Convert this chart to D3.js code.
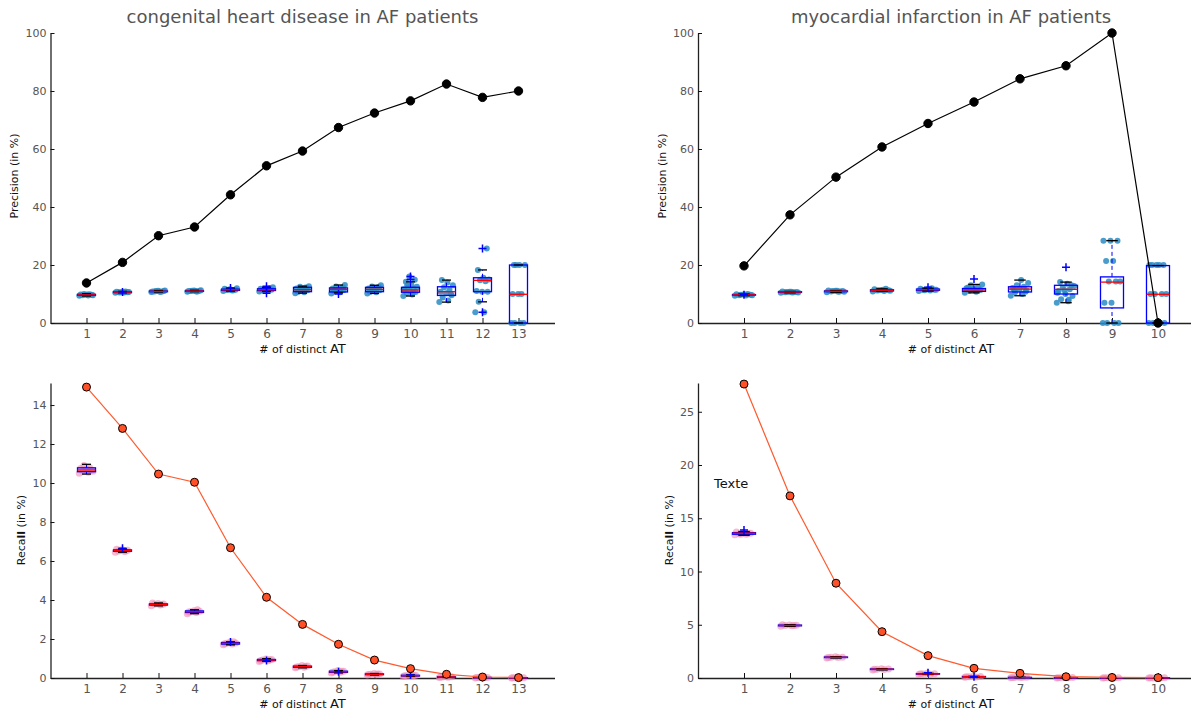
<!DOCTYPE html>
<html lang="en">
<head>
<meta charset="UTF-8">
<title>Precision / Recall by # of distinct AT</title>
<script src="https://d3js.org/d3.v7.min.js"></script>
<style>
    body { margin: 0; background: #fff; font-family: "DejaVu Sans", sans-serif; }
    .tick text { fill: #555; font-family: "DejaVu Sans", sans-serif; }
    .tick line { stroke: #111; }
    .domain { stroke: #222; stroke-width: 1.3; }
</style>
</head>
<body>
<div id="chart"></div>
<script>
// ---- categories / tick labels
const catsCHD = [1, 2, 3, 4, 5, 6, 7, 8, 9, 10, 11, 12, 13];
const catsMI = [1, 2, 3, 4, 5, 6, 7, 8, 9, 10];
const precTicks = [0, 20, 40, 60, 80, 100];
const recallTicksCHD = [0, 2, 4, 6, 8, 10, 12, 14];
const recallTicksMI = [0, 5, 10, 15, 20, 25];

// ---- precision, congenital heart disease
const precLineCHD = [13.8, 20.9, 30.1, 33.1, 44.2, 54.2, 59.3, 67.4, 72.4, 76.6, 82.4, 77.8, 80.0];
// [low whisker, q1, median, q3, high whisker]
const precBoxCHD = [
    [9.3, 9.55, 9.7, 9.85, 10.1], [10.4, 10.5, 10.65, 10.75, 10.9], [10.7, 10.8, 10.9, 11.0, 11.2],
    [10.8, 10.9, 11.0, 11.1, 11.3], [11.0, 11.25, 11.45, 11.65, 12.0], [10.9, 11.2, 11.45, 11.8, 12.3],
    [10.3, 10.8, 11.5, 12.3, 12.7], [10.4, 10.7, 11.6, 12.1, 13.1], [10.2, 10.8, 11.6, 12.3, 13.0],
    [9.3, 10.6, 11.4, 12.3, 14.2], [7.2, 9.5, 10.8, 12.5, 14.8], [7.3, 10.8, 14.7, 15.6, 18.3],
    [0, 0, 9.9, 20.0, 20.0]
];
const precFliersCHD = [[], [10.7], [], [], [12.1], [12.7, 10.3], [], [10.0], [], [15.0, 16.0], [], [25.7, 3.7], []];
const precPtsCHD = [
    [9.4, 9.5, 9.6, 9.7, 9.7, 9.8, 9.9, 10.0, 9.6, 9.8],
    [10.4, 10.5, 10.6, 10.6, 10.7, 10.8, 10.9, 10.5, 10.7, 10.6],
    [10.7, 10.8, 10.9, 11.0, 11.1, 10.9, 10.8, 11.0, 11.2, 10.9],
    [10.8, 10.9, 11.0, 11.1, 11.2, 11.0, 10.9, 11.1, 11.3, 11.0],
    [11.0, 11.2, 11.4, 11.5, 11.6, 11.8, 11.3, 11.5, 12.0, 11.4],
    [10.9, 11.1, 11.3, 11.5, 11.6, 11.8, 12.0, 11.4, 12.3, 11.2],
    [10.3, 10.6, 10.9, 11.3, 11.6, 11.9, 12.2, 12.5, 12.7, 11.5, 10.8, 12.0],
    [10.2, 10.6, 10.9, 11.3, 11.6, 11.9, 12.1, 12.6, 13.1, 11.5, 11.0, 12.3],
    [10.2, 10.6, 10.9, 11.3, 11.6, 11.9, 12.2, 12.6, 13.0, 11.5, 10.8, 12.4],
    [9.3, 9.8, 10.3, 10.7, 11.0, 11.4, 11.8, 12.2, 12.5, 13.2, 14.2, 14.9, 16.0, 11.6, 10.5, 12.9],
    [7.2, 7.8, 8.8, 9.6, 10.3, 10.8, 11.5, 12.3, 13.0, 14.0, 14.8, 10.1],
    [3.7, 3.7, 7.3, 10.8, 10.8, 11.0, 14.4, 14.7, 15.0, 15.6, 18.3, 25.7],
    [0, 0, 0, 0, 10, 10, 10, 20, 20, 20, 20]
];

// ---- precision, myocardial infarction
const precLineMI = [19.7, 37.3, 50.3, 60.7, 68.8, 76.2, 84.2, 88.7, 100.0, 0.0];
const precBoxMI = [
    [9.4, 9.6, 9.7, 9.8, 10.0], [10.4, 10.55, 10.7, 10.8, 10.9], [10.6, 10.8, 10.95, 11.05, 11.2],
    [10.9, 11.05, 11.3, 11.45, 11.8], [11.0, 11.3, 11.5, 11.7, 12.0], [10.4, 10.9, 11.4, 11.9, 13.3],
    [9.4, 10.7, 11.7, 12.5, 14.8], [7.0, 10.0, 11.6, 13.0, 14.1], [0, 5.2, 14.1, 15.9, 28.4],
    [0, 0, 9.9, 19.8, 19.8]
];
const precFliersMI = [[9.7], [], [], [], [12.3], [15.2], [], [19.2], [], []];
const precPtsMI = [
    [9.4, 9.5, 9.6, 9.7, 9.8, 9.9, 10.0, 9.7, 9.6, 9.8],
    [10.4, 10.5, 10.6, 10.7, 10.8, 10.9, 10.6, 10.7, 10.5, 10.8],
    [10.6, 10.8, 10.9, 11.0, 11.1, 11.2, 10.9, 11.0, 10.8, 11.1],
    [10.9, 11.0, 11.2, 11.3, 11.4, 11.6, 11.8, 11.3, 11.1, 11.5],
    [11.0, 11.2, 11.4, 11.5, 11.6, 11.8, 12.0, 11.3, 11.5, 11.7],
    [10.4, 10.8, 11.1, 11.4, 11.7, 12.0, 12.4, 13.0, 13.3, 11.2, 12.2],
    [9.4, 10.0, 10.6, 11.2, 11.7, 12.1, 12.5, 13.0, 13.8, 14.8, 11.5, 10.8],
    [7.0, 7.5, 8.2, 9.3, 10.0, 11.0, 11.6, 12.2, 12.8, 13.5, 14.1, 13.0, 11.3, 10.4, 8.0],
    [0, 0, 0, 0, 7.0, 7.0, 14.3, 14.3, 14.3, 21.4, 21.4, 28.4, 28.4, 28.4],
    [0, 0, 0, 0, 0, 10, 10, 10, 10, 20, 20, 20, 20, 20]
];

// ---- recall, congenital heart disease
const recallLineCHD = [14.92, 12.8, 10.46, 10.04, 6.68, 4.14, 2.75, 1.73, 0.92, 0.48, 0.19, 0.05, 0.02];
const recallBoxCHD = [
    [10.46, 10.58, 10.67, 10.78, 10.96], [6.45, 6.5, 6.53, 6.57, 6.62], [3.7, 3.74, 3.77, 3.8, 3.85],
    [3.3, 3.36, 3.4, 3.44, 3.5], [1.7, 1.74, 1.78, 1.82, 1.86], [0.85, 0.89, 0.92, 0.95, 0.99],
    [0.52, 0.55, 0.58, 0.61, 0.64], [0.26, 0.29, 0.32, 0.35, 0.38], [0.15, 0.17, 0.19, 0.21, 0.23],
    [0.08, 0.1, 0.12, 0.14, 0.16], [0.03, 0.04, 0.05, 0.06, 0.07], [0.0, 0.01, 0.02, 0.03, 0.04],
    [0.0, 0.005, 0.01, 0.015, 0.02]
];
const recallFliersCHD = [[], [6.65], [], [], [1.85], [0.9], [], [0.32], [], [0.15], [], [0.03], []];
const recallPtsCHD = [
    [10.5, 10.55, 10.6, 10.65, 10.7, 10.75, 10.8, 10.9, 10.6, 10.7],
    [6.45, 6.5, 6.52, 6.55, 6.58, 6.6, 6.5, 6.55],
    [3.7, 3.75, 3.78, 3.8, 3.82, 3.85, 3.77],
    [3.3, 3.36, 3.4, 3.42, 3.45, 3.38, 3.5],
    [1.7, 1.74, 1.78, 1.8, 1.84, 1.76, 1.86],
    [0.85, 0.89, 0.92, 0.95, 0.98, 0.9, 0.94],
    [0.52, 0.55, 0.58, 0.61, 0.64, 0.57, 0.6],
    [0.26, 0.29, 0.32, 0.35, 0.38, 0.3, 0.34],
    [0.15, 0.17, 0.19, 0.21, 0.23, 0.18, 0.2],
    [0.08, 0.1, 0.12, 0.14, 0.16, 0.11, 0.13],
    [0.03, 0.04, 0.05, 0.06, 0.07, 0.05],
    [0.0, 0.01, 0.02, 0.03, 0.04, 0.02],
    [0.0, 0.005, 0.01, 0.015, 0.02, 0.01]
];

// ---- recall, myocardial infarction
const recallLineMI = [27.6, 17.1, 8.9, 4.35, 2.1, 0.91, 0.44, 0.12, 0.05, 0.03];
const recallBoxMI = [
    [13.4, 13.5, 13.6, 13.65, 13.75], [4.85, 4.9, 4.93, 4.97, 5.0], [1.88, 1.92, 1.94, 1.97, 2.0],
    [0.76, 0.8, 0.82, 0.85, 0.88], [0.33, 0.36, 0.38, 0.41, 0.44], [0.08, 0.1, 0.12, 0.14, 0.16],
    [0.03, 0.04, 0.05, 0.06, 0.07], [0.01, 0.02, 0.03, 0.04, 0.05], [0.0, 0.01, 0.02, 0.03, 0.04],
    [0.0, 0.01, 0.01, 0.02, 0.03]
];
const recallFliersMI = [[13.9], [], [], [], [0.5], [0.12], [], [], [], []];
const recallPtsMI = [
    [13.45, 13.5, 13.55, 13.6, 13.65, 13.7, 13.6, 13.5],
    [4.85, 4.9, 4.92, 4.95, 4.98, 5.0, 4.93],
    [1.88, 1.92, 1.94, 1.96, 2.0, 1.93],
    [0.76, 0.8, 0.82, 0.85, 0.88, 0.83],
    [0.33, 0.36, 0.38, 0.41, 0.44, 0.39],
    [0.08, 0.1, 0.12, 0.14, 0.16, 0.11],
    [0.03, 0.04, 0.05, 0.06, 0.07, 0.05],
    [0.01, 0.02, 0.03, 0.04, 0.05, 0.03],
    [0.0, 0.01, 0.02, 0.03, 0.04, 0.02],
    [0.0, 0.01, 0.01, 0.02, 0.03, 0.02]
];

const svg = d3.select("#chart").append("svg")
    .attr("width", 1191).attr("height", 712)
    .style("background", "#fff");

function drawPanel(p) {
    const g = svg.append("g");
    const x = d3.scaleLinear().domain([0, p.cats.length + 1]).range(p.xRange);
    const y = d3.scaleLinear().domain(p.yDomain).range(p.yRange);
    const unit = x(1) - x(0);
    const bw = unit * 0.5;

    // axes (ticks point inward)
    const gx = g.append("g")
        .attr("transform", `translate(0,${p.yRange[0]})`)
        .call(d3.axisBottom(x).tickValues(p.cats).tickSizeInner(-5).tickSizeOuter(0).tickPadding(6));
    gx.selectAll(".tick text").style("font-size", "12px");

    const gy = g.append("g")
        .attr("transform", `translate(${p.xRange[0]},0)`)
        .call(d3.axisLeft(y).tickValues(p.yTicks).tickSizeInner(-4).tickSizeOuter(0).tickPadding(4));
    gy.selectAll(".tick text").style("font-size", "11px");

    // jittered raw points
    p.cats.forEach((c, i) => {
        const pts = p.pts[i];
        g.append("g").selectAll("circle")
            .data(pts)
            .join("circle")
            .attr("cx", (d, j) => x(c) + (((j * 0.618034) % 1) - 0.5) * 0.4 * unit)
            .attr("cy", d => y(d))
            .attr("r", p.dotR)
            .attr("fill", p.dotColor)
            .attr("fill-opacity", p.dotOpacity);
    });

    // boxplots
    const bx = g.append("g").selectAll("g")
        .data(p.boxes.map((b, i) => ({ c: p.cats[i], b: b, f: p.fliers[i] })))
        .join("g");

    bx.append("line") // lower whisker
        .attr("x1", d => x(d.c)).attr("x2", d => x(d.c))
        .attr("y1", d => y(d.b[0])).attr("y2", d => y(d.b[1]))
        .attr("stroke", "#00f").attr("stroke-dasharray", "4,3");
    bx.append("line") // upper whisker
        .attr("x1", d => x(d.c)).attr("x2", d => x(d.c))
        .attr("y1", d => y(d.b[3])).attr("y2", d => y(d.b[4]))
        .attr("stroke", "#00f").attr("stroke-dasharray", "4,3");
    bx.append("rect")
        .attr("x", d => x(d.c) - bw / 2)
        .attr("y", d => y(d.b[3]))
        .attr("width", bw)
        .attr("height", d => Math.max(y(d.b[1]) - y(d.b[3]), 0.5))
        .attr("fill", "none").attr("stroke", "#00f").attr("stroke-width", 1.3);
    [0, 4].forEach(k => {
        bx.append("line") // caps
            .attr("x1", d => x(d.c) - bw / 4).attr("x2", d => x(d.c) + bw / 4)
            .attr("y1", d => y(d.b[k])).attr("y2", d => y(d.b[k]))
            .attr("stroke", "#000").attr("stroke-width", 1.3);
    });
    bx.append("line") // median
        .attr("x1", d => x(d.c) - bw / 2).attr("x2", d => x(d.c) + bw / 2)
        .attr("y1", d => y(d.b[2])).attr("y2", d => y(d.b[2]))
        .attr("stroke", "#f00").attr("stroke-width", 1.3);
    bx.each(function (d) {
        d3.select(this).selectAll("path.flier")
            .data(d.f)
            .join("path")
            .attr("class", "flier")
            .attr("d", v => `M${x(d.c) - 4},${y(v)}H${x(d.c) + 4}M${x(d.c)},${y(v) - 4}V${y(v) + 4}`)
            .attr("stroke", "#00f").attr("stroke-width", 1.5);
    });

    // summary line
    g.append("path")
        .datum(p.line)
        .attr("fill", "none")
        .attr("stroke", p.lineColor)
        .attr("stroke-width", 1.2)
        .attr("d", d3.line().x((d, i) => x(p.cats[i])).y(d => y(d)));
    g.append("g").selectAll("circle")
        .data(p.line)
        .join("circle")
        .attr("cx", (d, i) => x(p.cats[i]))
        .attr("cy", d => y(d))
        .attr("r", p.markR)
        .attr("fill", p.markFill)
        .attr("stroke", "#000")
        .attr("stroke-width", 1);

    // labels
    const cx = (p.xRange[0] + p.xRange[1]) / 2;
    if (p.title) {
        g.append("text")
            .attr("x", cx).attr("y", p.yRange[1] - 10)
            .attr("text-anchor", "middle")
            .style("font-size", "18px").style("fill", "#555")
            .text(p.title);
    }
    const xl = g.append("text")
        .attr("x", cx).attr("y", p.yRange[0] + 30)
        .attr("text-anchor", "middle")
        .style("font-size", "11px").style("fill", "#111");
    xl.append("tspan").text("# of distinct ");
    xl.append("tspan").style("font-size", "13px").text("AT");

    const yl = g.append("text")
        .attr("transform", `translate(${p.yLabelX},${p.yLabelY}) rotate(-90)`)
        .attr("text-anchor", "middle")
        .style("font-size", "11px").style("fill", "#111");
    p.yLabel.forEach(part => {
        yl.append("tspan").style("font-weight", part.bold ? "bold" : "normal").text(part.t);
    });

    if (p.note) {
        g.append("text")
            .attr("x", p.note.x).attr("y", p.note.y)
            .style("font-size", "13px").style("fill", "#111")
            .text(p.note.t);
    }
}

const precLabel = [{ t: "Precision (in %)" }];
const recallLabel = [{ t: "Reca" }, { t: "ll", bold: true }, { t: " (in %)" }];

drawPanel({
    cats: catsCHD, xRange: [50.5, 554.5], yDomain: [0, 100], yRange: [323, 33], yTicks: precTicks,
    pts: precPtsCHD, boxes: precBoxCHD, fliers: precFliersCHD, line: precLineCHD,
    dotR: 3, dotColor: "#2a8bc4", dotOpacity: 0.85,
    lineColor: "#000", markR: 4.2, markFill: "#000",
    title: "congenital heart disease in AF patients",
    yLabel: precLabel, yLabelX: 18, yLabelY: 176
});
drawPanel({
    cats: catsMI, xRange: [698, 1204], yDomain: [0, 100], yRange: [323, 33], yTicks: precTicks,
    pts: precPtsMI, boxes: precBoxMI, fliers: precFliersMI, line: precLineMI,
    dotR: 3, dotColor: "#2a8bc4", dotOpacity: 0.85,
    lineColor: "#000", markR: 4.2, markFill: "#000",
    title: "myocardial infarction in AF patients",
    yLabel: precLabel, yLabelX: 666, yLabelY: 176
});
drawPanel({
    cats: catsCHD, xRange: [50.5, 554.5], yDomain: [0, 15.13], yRange: [678, 383], yTicks: recallTicksCHD,
    pts: recallPtsCHD, boxes: recallBoxCHD, fliers: recallFliersCHD, line: recallLineCHD,
    dotR: 3.5, dotColor: "#f08cb4", dotOpacity: 0.6,
    lineColor: "#ff5a2e", markR: 4, markFill: "#fe5127",
    yLabel: recallLabel, yLabelX: 25, yLabelY: 530
});
drawPanel({
    cats: catsMI, xRange: [698, 1204], yDomain: [0, 27.7], yRange: [678, 383], yTicks: recallTicksMI,
    pts: recallPtsMI, boxes: recallBoxMI, fliers: recallFliersMI, line: recallLineMI,
    dotR: 3.5, dotColor: "#f08cb4", dotOpacity: 0.6,
    lineColor: "#ff5a2e", markR: 4, markFill: "#fe5127",
    yLabel: recallLabel, yLabelX: 673, yLabelY: 530,
    note: { x: 714, y: 488, t: "Texte" }
});
</script>
</body>
</html>
